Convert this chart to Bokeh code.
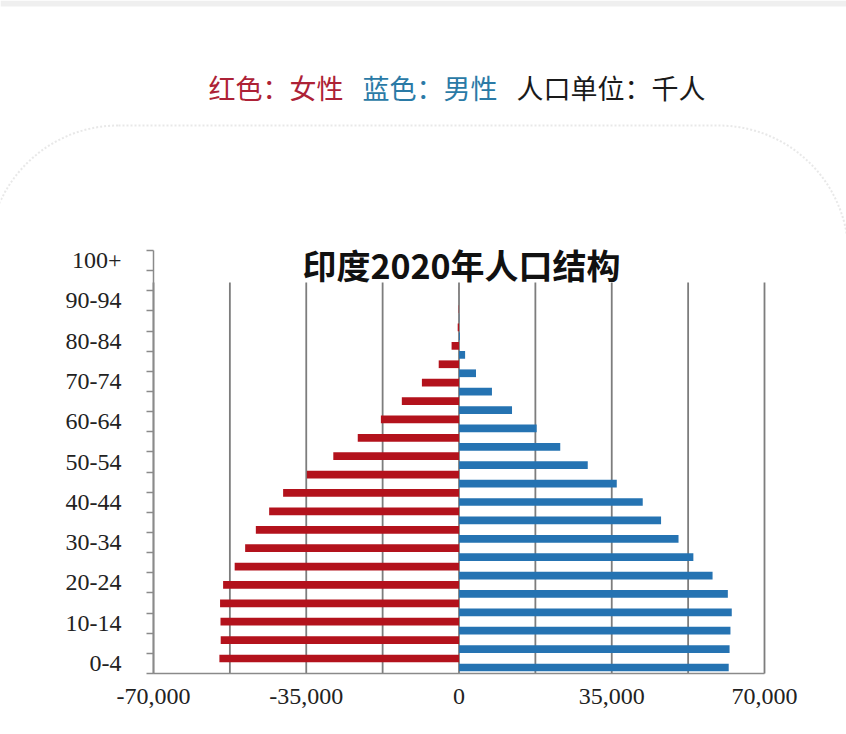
from bokeh.plotting import figure
from bokeh.models import (ColumnDataSource, Range1d, LinearAxis, FixedTicker,
                          NumeralTickFormatter, Label, BoxAnnotation)
from bokeh.transform import dodge
from bokeh.embed import file_html
from bokeh.resources import INLINE

# ---- data (thousands of people) ----
ages = ["0-4", "5-9", "10-14", "15-19", "20-24", "25-29", "30-34", "35-39",
        "40-44", "45-49", "50-54", "55-59", "60-64", "65-69", "70-74", "75-79",
        "80-84", "85-89", "90-94", "95-99", "100+"]
female = [54900, 54600, 54650, 54750, 54050, 51400, 49000, 46550, 43500, 40300,
          34850, 28800, 23200, 17900, 13100, 8500, 4650, 1700, 300, 60, 5]
male = [61800, 62000, 62200, 62500, 61600, 58100, 53700, 50300, 46300, 42100,
        36150, 29500, 23200, 17800, 12150, 7550, 3900, 1400, 200, 40, 3]
x_ticks = [-70000, -35000, 0, 35000, 70000]
grid_ticks = [-70000, -52500, -35000, -17500, 0, 17500, 35000, 52500, 70000]

title_text = "印度2020年人口结构"
legend_parts = [("红色：女性", "#ad2236"), ("蓝色：男性", "#2a7aa6"), ("人口单位：千人", "#1a1a1a")]

RED = "#b3121c"
BLUE = "#2573b2"
GREY = "#8a8a8a"

# ---- layout constants (pixels on the canvas) ----
W, H = 846, 734
XL_PX, XR_PX = 153, 764          # where the outer x ticks sit
AX_BOTTOM_PX, AX_TOP_PX = 673, 250   # extent of the age axis
BAR_STEP_PX, BAR0_PX = 18.39, 662.5  # bar-group spacing and first group centre
GRID_TOP_PX = 282

xs_per_px = (x_ticks[-1] - x_ticks[0]) / (XR_PX - XL_PX)
x_range = Range1d(x_ticks[0] - XL_PX * xs_per_px, x_ticks[-1] + (W - XR_PX) * xs_per_px)

n = len(ages)
age_px = (AX_BOTTOM_PX - AX_TOP_PX) / n
age_range = Range1d(-(H - AX_BOTTOM_PX) / age_px, AX_BOTTOM_PX / age_px)
bar_range = Range1d(-(H - BAR0_PX) / BAR_STEP_PX, BAR0_PX / BAR_STEP_PX)
grid_top = (AX_BOTTOM_PX - GRID_TOP_PX) / age_px

idx = list(range(n))
src = ColumnDataSource(dict(
    pos=idx,
    female_left=[-v for v in female],
    male=male,
    zero=[0] * n,
))

p = figure(width=W, height=H, output_backend="svg", toolbar_location=None,
           x_range=x_range, y_range=bar_range,
           x_axis_location=None, y_axis_location=None,
           min_border=0, min_border_left=0, min_border_right=0,
           min_border_top=0, min_border_bottom=0)
p.outline_line_color = None
p.background_fill_color = "white"
p.border_fill_color = "white"
p.xgrid.visible = False
p.ygrid.visible = False
p.extra_y_ranges = {"age": age_range}

# faint grey strip at the very top of the picture
p.add_layout(BoxAnnotation(left=0, right=W, top=0, bottom=6,
                           left_units="canvas", right_units="canvas",
                           top_units="canvas", bottom_units="canvas",
                           fill_color="#efefef", fill_alpha=1, line_color=None,
                           level="underlay"))

# rounded dotted frame around the chart
p.add_layout(BoxAnnotation(left=-12, right=848, top=125, bottom=1000,
                           left_units="canvas", right_units="canvas",
                           top_units="canvas", bottom_units="canvas",
                           fill_alpha=0, line_color="#b4b4b4", line_width=2,
                           line_dash="2 2", border_radius=130, level="underlay"))

# vertical grid lines (stop below the title)
p.segment(x0=grid_ticks, x1=grid_ticks, y0=[0] * len(grid_ticks),
          y1=[grid_top] * len(grid_ticks), y_range_name="age",
          line_color="#7d7d7d", line_width=1.8, level="underlay")

# bars
p.hbar(y=dodge("pos", 0.245, range=p.y_range), left="female_left", right="zero",
       height=0.42, source=src, fill_color=RED, line_color=None)
p.hbar(y=dodge("pos", -0.245, range=p.y_range), left="zero", right="male",
       height=0.42, source=src, fill_color=BLUE, line_color=None)

# x axis
xax = LinearAxis(y_range_name="age", fixed_location=0,
                 bounds=(x_ticks[0], x_ticks[-1]),
                 ticker=FixedTicker(ticks=x_ticks),
                 formatter=NumeralTickFormatter(format="0,0"))
xax.major_label_text_font = "Liberation Serif"
xax.major_label_text_font_size = "24px"
xax.major_label_text_color = "#222222"
xax.major_tick_out = 0
xax.major_tick_in = 0
xax.minor_tick_line_color = None
xax.axis_line_color = GREY
xax.axis_line_width = 1.5
xax.major_label_standoff = 15
p.add_layout(xax, "below")

# age axis
label_pos = [i + 0.5 for i in idx if i % 2 == 0]
yax = LinearAxis(y_range_name="age", fixed_location=x_ticks[0], bounds=(0, n),
                 ticker=FixedTicker(ticks=label_pos, minor_ticks=list(range(n + 1))),
                 major_label_overrides={i + 0.5: ages[i] for i in idx if i % 2 == 0})
yax.major_tick_out = 0
yax.major_tick_in = 0
yax.minor_tick_out = 7
yax.minor_tick_in = 0
yax.minor_tick_line_color = GREY
yax.minor_tick_line_width = 1.5
yax.axis_line_color = GREY
yax.axis_line_width = 1.5
yax.major_label_standoff = 25
yax.major_label_text_font = "Liberation Serif"
yax.major_label_text_font_size = "24px"
yax.major_label_text_color = "#222222"
p.add_layout(yax, "left")

# chart title
p.add_layout(Label(x=461, y=264, x_units="canvas", y_units="canvas",
                   text=title_text, text_align="center", text_baseline="middle",
                   text_font="Noto Sans CJK SC", text_font_style="bold",
                   text_font_size="34px", text_color="#111111"))

# colour key above the chart
for (txt, col), x0 in zip(legend_parts, [208, 362, 516]):
    p.add_layout(Label(x=x0, y=87, x_units="canvas", y_units="canvas",
                       text=txt, text_align="left", text_baseline="middle",
                       text_font="Noto Sans CJK SC", text_font_size="27px",
                       text_color=col))

open("out.html", "w").write(file_html(p, INLINE))
